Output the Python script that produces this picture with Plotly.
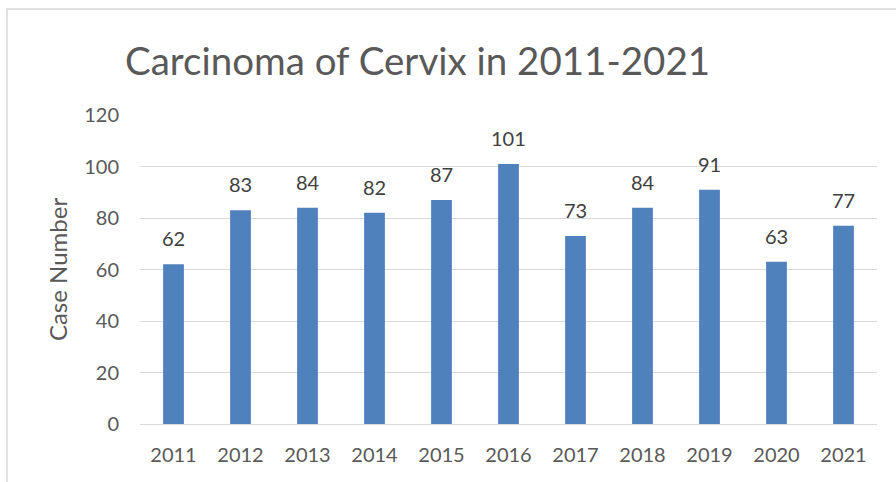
import plotly.graph_objects as go

years = ["2011", "2012", "2013", "2014", "2015", "2016", "2017", "2018", "2019", "2020", "2021"]
cases = [62, 83, 84, 82, 87, 101, 73, 84, 91, 63, 77]
y_ticks = [0, 20, 40, 60, 80, 100, 120]

W, H = 896, 482
L, R, T, B = 140, 19, 115, 58
pw, ph = W - L - R, H - T - B

fig = go.Figure(go.Bar(
    x=years, y=cases,
    marker=dict(color="#4F81BD", line=dict(width=0)),
    cliponaxis=False,
))

# category axis: annotation x uses the category's serial index
for i, v in enumerate(cases):
    fig.add_annotation(x=i, y=v, text=str(v), showarrow=False, yshift=26,
                       font=dict(size=20, color="#404040", family="Lato"))

fig.update_layout(
    width=W, height=H,
    margin=dict(l=L, r=R, t=T, b=B, autoexpand=False),
    paper_bgcolor="white", plot_bgcolor="white",
    bargap=0.69,
    showlegend=False,
    font=dict(family="Lato", color="#595959"),
    title=dict(text="Carcinoma of Cervix in 2011-2021", x=125 / W, xanchor="left",
               y=1 - 62 / H, yanchor="middle", pad=dict(l=0, r=0, t=0, b=0),
               font=dict(size=38.5, color="#595959", family="Lato")),
    xaxis=dict(type="category", showgrid=False, showline=False, ticks="", automargin=False,
               ticklabelstandoff=17, tickfont=dict(size=20, color="#595959")),
    yaxis=dict(range=[0, 120], tickvals=y_ticks, showgrid=True, gridcolor="#d9d9d9", gridwidth=1.3,
               zeroline=True, zerolinecolor="#d9d9d9", zerolinewidth=1.3, automargin=False,
               showline=False, ticks="", ticklabelstandoff=20,
               tickfont=dict(size=20, color="#595959"),
               title=dict(text="Case Number", font=dict(size=24, color="#595959"), standoff=9)),
    shapes=[dict(type="rect", xref="paper", yref="paper",
                 x0=(7 - L) / pw, x1=(W + 20 - L) / pw,
                 y0=-(H + 20 - T - ph) / ph, y1=1 + (T - 9) / ph,
                 line=dict(color="#d9d9d9", width=1.5), layer="below")],
)

fig.write_html("out.html", config={"displayModeBar": False},
               post_script="document.body.style.margin='0';document.body.style.overflow='hidden';")
